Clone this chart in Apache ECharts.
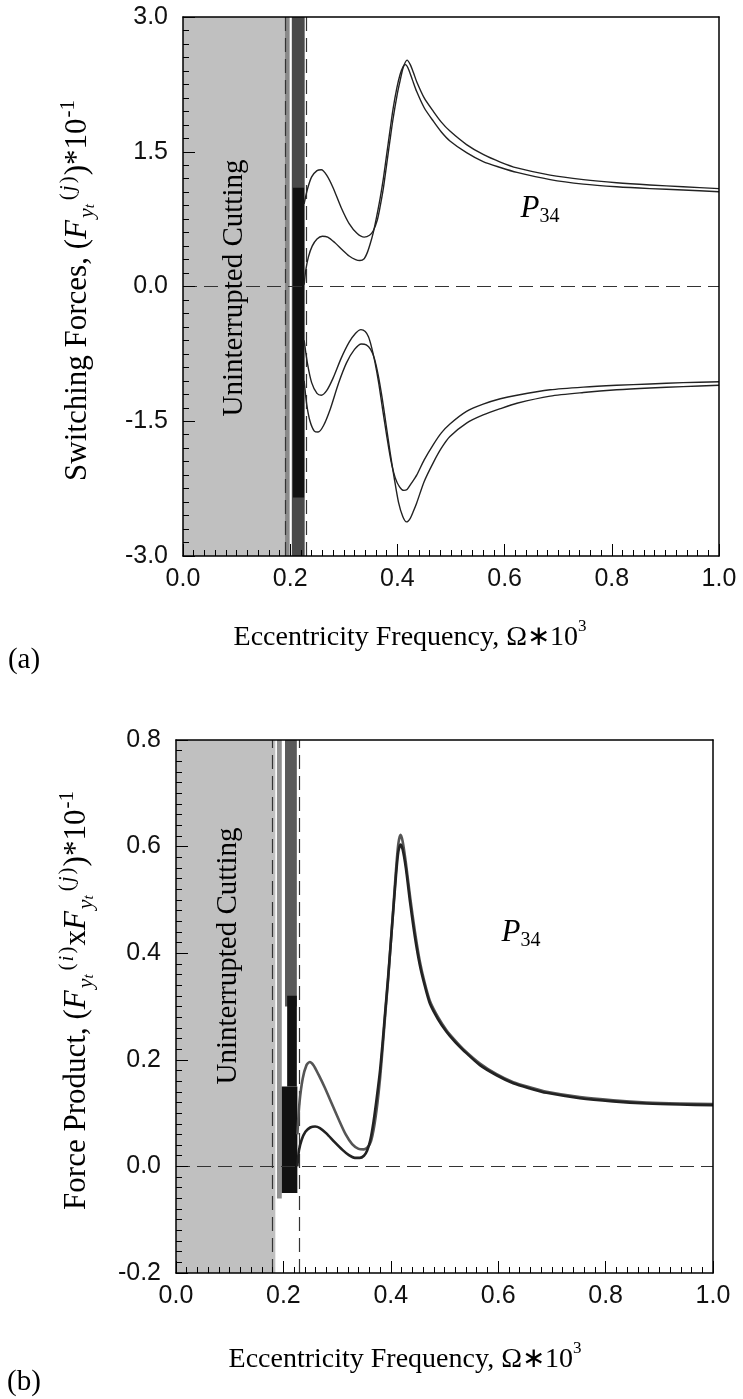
<!DOCTYPE html>
<html>
<head>
<meta charset="utf-8">
<script src="https://cdn.jsdelivr.net/npm/echarts@6/dist/echarts.min.js"></script>
<style>
html,body{margin:0;padding:0;background:#fff;}
#chart{width:743px;height:1399px;}
</style>
</head>
<body>
<div id="chart"></div>
<script>
// ---------------- DATA ----------------
// Tick labels
const xTicks = [0.0, 0.2, 0.4, 0.6, 0.8, 1.0];
const yTicksA = [-3.0, -1.5, 0.0, 1.5, 3.0];
const yTicksB = [-0.2, 0.0, 0.2, 0.4, 0.6, 0.8];

// Panel (a): switching forces, four branches [Omega*1e3, F*1e-1]
const aUpperOuter = [[0.226,0.92],[0.232,1.08],[0.24,1.22],[0.25,1.29],[0.258,1.30],[0.268,1.24],[0.28,1.10],[0.295,0.88],[0.31,0.70],[0.325,0.59],[0.338,0.55],[0.348,0.57],[0.355,0.62],[0.3625,0.74],[0.3675,0.88],[0.374,1.10],[0.38,1.36],[0.386,1.62],[0.392,1.87],[0.40,2.15],[0.405,2.29],[0.411,2.44],[0.418,2.52],[0.424,2.47],[0.43,2.38],[0.436,2.28],[0.45,2.10],[0.467,1.95],[0.482,1.83],[0.498,1.73],[0.529,1.58],[0.56,1.47],[0.592,1.385],[0.623,1.32],[0.685,1.24],[0.747,1.19],[0.809,1.155],[0.871,1.13],[0.933,1.11],[1.0,1.09]];
const aUpperInner = [[0.226,0.02],[0.229,0.18],[0.234,0.33],[0.241,0.45],[0.25,0.53],[0.26,0.56],[0.27,0.55],[0.283,0.49],[0.297,0.41],[0.31,0.34],[0.322,0.30],[0.33,0.29],[0.338,0.31],[0.344,0.38],[0.349,0.47],[0.355,0.60],[0.361,0.77],[0.368,0.99],[0.374,1.21],[0.38,1.47],[0.386,1.73],[0.392,1.98],[0.399,2.21],[0.405,2.36],[0.411,2.45],[0.415,2.47],[0.42,2.43],[0.428,2.30],[0.436,2.17],[0.45,1.99],[0.467,1.84],[0.482,1.72],[0.498,1.62],[0.529,1.49],[0.56,1.39],[0.592,1.325],[0.623,1.27],[0.685,1.19],[0.747,1.14],[0.809,1.11],[0.871,1.09],[0.933,1.075],[1.0,1.055]];
const aLowerInner = [[0.226,-0.60],[0.232,-0.85],[0.24,-1.07],[0.25,-1.19],[0.258,-1.21],[0.268,-1.16],[0.28,-1.02],[0.295,-0.80],[0.31,-0.62],[0.322,-0.52],[0.332,-0.48],[0.34,-0.50],[0.346,-0.56],[0.352,-0.68],[0.358,-0.84],[0.365,-1.07],[0.372,-1.35],[0.38,-1.66],[0.388,-1.94],[0.396,-2.13],[0.404,-2.23],[0.412,-2.27],[0.418,-2.26],[0.425,-2.20],[0.436,-2.10],[0.45,-1.93],[0.467,-1.76],[0.482,-1.63],[0.498,-1.53],[0.529,-1.39],[0.56,-1.31],[0.592,-1.25],[0.623,-1.21],[0.685,-1.15],[0.747,-1.12],[0.809,-1.10],[0.871,-1.085],[0.933,-1.07],[1.0,-1.06]];
const aLowerOuter = [[0.226,-1.05],[0.231,-1.32],[0.237,-1.50],[0.245,-1.61],[0.252,-1.62],[0.262,-1.55],[0.275,-1.36],[0.29,-1.08],[0.305,-0.85],[0.32,-0.70],[0.333,-0.64],[0.342,-0.65],[0.35,-0.70],[0.357,-0.80],[0.364,-0.98],[0.371,-1.22],[0.378,-1.50],[0.386,-1.83],[0.394,-2.13],[0.402,-2.40],[0.41,-2.56],[0.417,-2.62],[0.424,-2.58],[0.43,-2.50],[0.436,-2.41],[0.45,-2.17],[0.467,-1.96],[0.482,-1.80],[0.498,-1.67],[0.529,-1.52],[0.56,-1.43],[0.592,-1.36],[0.623,-1.30],[0.685,-1.22],[0.747,-1.18],[0.809,-1.15],[0.871,-1.13],[0.933,-1.115],[1.0,-1.10]];

// Panel (b): force product, two branches
const bUpper = [[0.226,0.06],[0.23,0.12],[0.236,0.165],[0.243,0.19],[0.249,0.196],[0.256,0.19],[0.265,0.173],[0.277,0.148],[0.29,0.118],[0.303,0.088],[0.316,0.06],[0.328,0.042],[0.34,0.033],[0.35,0.032],[0.357,0.036],[0.363,0.047],[0.369,0.075],[0.375,0.118],[0.38,0.165],[0.385,0.225],[0.39,0.29],[0.395,0.35],[0.40,0.42],[0.405,0.49],[0.41,0.56],[0.414,0.605],[0.418,0.622],[0.422,0.61],[0.428,0.57],[0.436,0.505],[0.445,0.44],[0.454,0.385],[0.463,0.345],[0.473,0.31],[0.488,0.28],[0.504,0.255],[0.52,0.236],[0.535,0.22],[0.566,0.193],[0.597,0.173],[0.628,0.158],[0.66,0.148],[0.69,0.14],[0.752,0.13],[0.814,0.124],[0.876,0.12],[0.938,0.118],[1.0,0.117]];
const bLower = [[0.226,0.0],[0.229,0.03],[0.234,0.05],[0.241,0.065],[0.25,0.073],[0.259,0.075],[0.268,0.072],[0.28,0.062],[0.295,0.046],[0.31,0.031],[0.322,0.021],[0.333,0.016],[0.342,0.016],[0.35,0.02],[0.356,0.03],[0.362,0.05],[0.368,0.085],[0.374,0.13],[0.38,0.18],[0.385,0.235],[0.39,0.295],[0.395,0.355],[0.40,0.42],[0.405,0.485],[0.41,0.55],[0.414,0.59],[0.418,0.604],[0.422,0.595],[0.428,0.56],[0.436,0.495],[0.445,0.43],[0.454,0.378],[0.463,0.34],[0.473,0.305],[0.488,0.276],[0.504,0.252],[0.52,0.233],[0.535,0.218],[0.566,0.19],[0.597,0.171],[0.628,0.156],[0.66,0.146],[0.69,0.138],[0.752,0.128],[0.814,0.122],[0.876,0.118],[0.938,0.116],[1.0,0.115]];

// Regions [x0, x1, y0, y1]
const aUninterrupted = [[0, 0.19, -3, 3]];
const aSparseBand = [[0.19, 0.199, -3, 3]];
const aDenseBand = [[0.203, 0.227, -3, 3]];
const aDenseCore = [[0.205, 0.226, -2.35, 1.1]];
const bUninterrupted = [[0, 0.185, -0.2, 0.8]];
const bSparseBand = [[0.188, 0.197, -0.06, 0.8]];
const bDenseBand = [[0.203, 0.225, 0.3, 0.8]];
const bDenseCore = [[0.207, 0.225, 0.15, 0.32], [0.197, 0.226, -0.05, 0.15]];
// Reference lines
const aVLines = [0.19, 0.227];
const bVLines = [0.185, 0.226];
const zeroLine = [0];

// ---------------- CHART ----------------
const chart = echarts.init(document.getElementById('chart'), null, {renderer:'canvas'});
const TICKFONT = 'Liberation Sans';

function bottomX(grid){
  return {gridIndex:grid, type:'value', min:0, max:1, interval:0.2, position:'bottom', z:10,
    axisLine:{onZero:false, lineStyle:{color:'#000', width:1.5}},
    axisTick:{inside:true, length:12, lineStyle:{color:'#000', width:1}},
    minorTick:{show:true, splitNumber:10, length:6, lineStyle:{color:'#000', width:1}},
    axisLabel:{margin:11, color:'#111', fontFamily:TICKFONT, fontSize:25,
      formatter:v=>{const t=xTicks.find(k=>Math.abs(k-v)<1e-9); return t===undefined?'':t.toFixed(1);}},
    splitLine:{show:false}, minorSplitLine:{show:false}};
}
function frame(grid, pos, mn, mx){
  return {gridIndex:grid, type:'value', position:pos, z:10, min:mn, max:mx,
    axisLine:{onZero:false, lineStyle:{color:'#000', width:1.5}},
    axisTick:{show:false}, axisLabel:{show:false}, splitLine:{show:false}};
}
function leftY(grid, mn, mx, itv, ticks){
  return {gridIndex:grid, type:'value', min:mn, max:mx, interval:itv, position:'left', z:10,
    axisLine:{onZero:false, lineStyle:{color:'#000', width:1.5}},
    axisTick:{inside:true, length:12, lineStyle:{color:'#000', width:1}},
    minorTick:{show:true, splitNumber:10, length:6, lineStyle:{color:'#000', width:1}},
    axisLabel:{margin:15, color:'#111', fontFamily:TICKFONT, fontSize:25,
      formatter:v=>{const t=ticks.find(k=>Math.abs(k-v)<1e-9); return t===undefined?'':t.toFixed(1);}},
    splitLine:{show:false}, minorSplitLine:{show:false}};
}

function area(rects, color, xi, z){
  return {type:'line', xAxisIndex:xi, yAxisIndex:xi, data:[], z:z, silent:true,
    markArea:{silent:true, itemStyle:{color:color, opacity:1}, label:{show:false},
      data:rects.map(r=>[{coord:[r[0], r[2]]},{coord:[r[1], r[3]]}])}};
}
function vlines(xs, xi){
  return {type:'line', xAxisIndex:xi, yAxisIndex:xi, data:[], z:3, silent:true,
    markLine:{silent:true, symbol:'none', label:{show:false}, animation:false,
      lineStyle:{color:'#333', width:1.2, type:[14,7]},
      data:xs.map(v=>({xAxis:v}))}};
}
function hline(ys, xi){
  return {type:'line', xAxisIndex:xi, yAxisIndex:xi, data:[], z:6, silent:true,
    markLine:{silent:true, symbol:'none', label:{show:false}, animation:false,
      lineStyle:{color:'#333', width:1.2, type:[14,7]},
      data:ys.map(v=>({yAxis:v}))}};
}
function curve(data, xi, color, w){
  return {type:'line', xAxisIndex:xi, yAxisIndex:xi, data:data, showSymbol:false, symbol:'none',
    smooth:0.25, z:5, silent:true,
    lineStyle:{color:color, width:w, join:'round'}};
}

const FS = '"Liberation Serif"';
const xRich = {
  sup:{font:'17px '+FS, fill:'#000', verticalAlign:'top', lineHeight:16}
};
const yRich = {
  fi:{font:'italic 31px '+FS, fill:'#000'},
  sup:{font:'21px '+FS, fill:'#000', verticalAlign:'top', lineHeight:18, padding:[0,1,0,1]},
  supi:{font:'italic 21px '+FS, fill:'#000', verticalAlign:'top', lineHeight:18, padding:[0,1,0,1]},
  sub:{font:'italic 22px '+FS, fill:'#000', verticalAlign:'bottom', lineHeight:15, padding:[0,0,0,2]},
  ssub:{font:'italic 15px '+FS, fill:'#000', verticalAlign:'bottom', lineHeight:9, padding:[0,3,0,0]}
};
const pRich = {
  p:{font:'italic 31px '+FS, fill:'#000', verticalAlign:'top', lineHeight:34},
  s:{font:'20px '+FS, fill:'#000', verticalAlign:'bottom', lineHeight:16}
};
function txt(x, y, text, font, rich, rot){
  return {type:'text', x:x, y:y, z:100, silent:true, rotation:rot||0,
    style:{text:text, fill:'#000', font:font, align:'center', verticalAlign:'middle', lineHeight:40, rich:rich||{}}};
}

const option = {
  animation:false,
  backgroundColor:'#fff',
  grid:[{left:183, top:17, width:536, height:539}, {left:176, top:740, width:537, height:533}],
  xAxis:[bottomX(0), frame(0,'top',0,1), bottomX(1), frame(1,'top',0,1)],
  yAxis:[leftY(0,-3,3,1.5,yTicksA), frame(0,'right',-3,3), leftY(1,-0.2,0.8,0.2,yTicksB), frame(1,'right',-0.2,0.8)],
  series:[
    area(aUninterrupted, '#c0c0c0', 0, 1),
    vlines(aVLines, 0),
    area(aSparseBand, '#8a8a8a', 0, 2),
    area(aDenseBand, '#4a4a4a', 0, 2),
    area(aDenseCore, '#111111', 0, 2),
    hline(zeroLine, 0),
    curve(aUpperOuter, 0, '#222', 1.4),
    curve(aUpperInner, 0, '#222', 1.4),
    curve(aLowerInner, 0, '#222', 1.4),
    curve(aLowerOuter, 0, '#222', 1.4),

    area(bUninterrupted, '#c0c0c0', 2, 1),
    vlines(bVLines, 2),
    area(bSparseBand, '#8f8f8f', 2, 2),
    area(bDenseBand, '#5a5a5a', 2, 2),
    area(bDenseCore, '#111111', 2, 2),
    hline(zeroLine, 2),
    curve(bUpper, 2, '#555', 2.6),
    curve(bLower, 2, '#222', 2.6)
  ],
  graphic:[
    txt(234, 288, 'Uninterrupted Cutting', '29px '+FS, null, Math.PI/2),
    txt(228, 956, 'Uninterrupted Cutting', '29px '+FS, null, Math.PI/2),
    txt(410, 638, 'Eccentricity Frequency, Ω∗10{sup|3}', '28px '+FS, xRich),
    txt(405, 1360, 'Eccentricity Frequency, Ω∗10{sup|3}', '28px '+FS, xRich),
    txt(78, 290, 'Switching Forces, ({fi|F}{sub|y}{ssub|t}{sup|(}{supi|j}{sup|)})*10{sup|-1}', '31px '+FS, yRich, Math.PI/2),
    txt(77, 1000, 'Force Product, ({fi|F}{sub|y}{ssub|t}{sup|(}{supi|i}{sup|)}x{fi|F}{sub|y}{ssub|t}{sup|(}{supi|j}{sup|)})*10{sup|-1}', '31px '+FS, yRich, Math.PI/2),
    txt(24, 660, '(a)', '29px '+FS),
    txt(24, 1382, '(b)', '29px '+FS),
    txt(540, 210, '{p|P}{s|34}', '31px '+FS, pRich),
    txt(521, 934, '{p|P}{s|34}', '31px '+FS, pRich)
  ]
};
chart.setOption(option);
</script>
</body>
</html>
